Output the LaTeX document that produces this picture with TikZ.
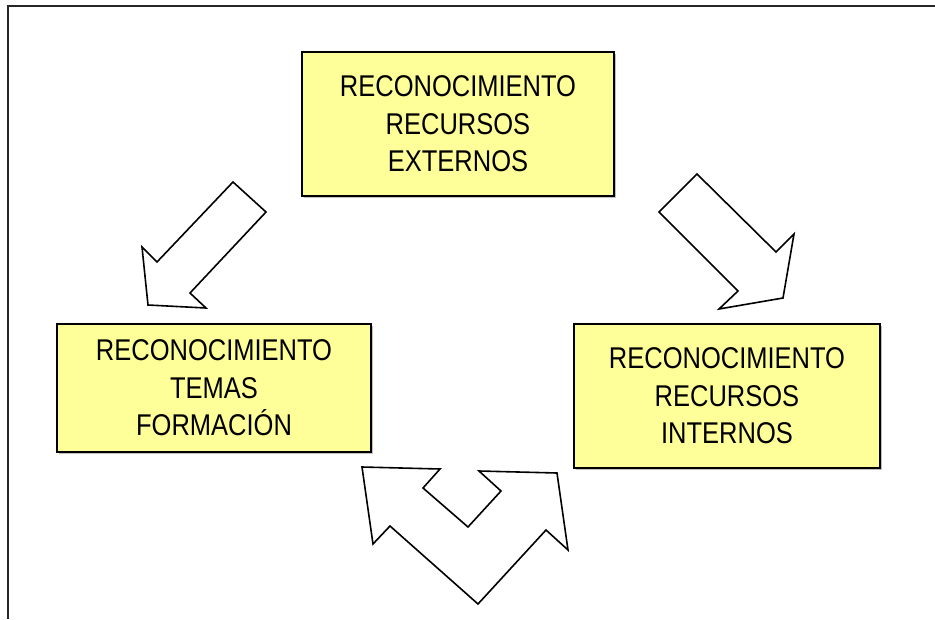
\documentclass[tikz,border=0pt]{standalone}
\usepackage{fontspec}
\setmainfont{Liberation Sans}[FakeStretch=0.85]
\usetikzlibrary{shadows}
\definecolor{amarillo}{RGB}{255,255,153}
\begin{document}
\begin{tikzpicture}[x=1pt,y=-1pt]
\tikzstyle{every node}+=[inner sep=0pt]
\tikzstyle{caja}=[draw=black, line width=1.6pt, fill=amarillo, align=center,
  drop shadow={shadow xshift=2pt, shadow yshift=-2pt, fill=gray, opacity=0.5},
  font=\fontsize{30}{37.5}\selectfont]
\tikzstyle{flecha}=[draw=black, line width=1.6pt, fill=white, line join=miter]
\useasboundingbox (0,0) rectangle (935,619);
% marco
\draw [line width=2pt, black!85] (8,619) -- (8,6) -- (935,6);
% cajas
\node [caja, minimum width=312pt, minimum height=144pt] (externos) at (458,124)
  {RECONOCIMIENTO\\RECURSOS\\EXTERNOS};
\node [caja, minimum width=314pt, minimum height=128pt] (temas) at (214,388)
  {RECONOCIMIENTO\\TEMAS\\FORMACIÓN};
\node [caja, minimum width=306pt, minimum height=144pt] (internos) at (727,396)
  {RECONOCIMIENTO\\RECURSOS\\INTERNOS};
% flechas de bloque
\draw [flecha] (233,182) -- (266,212) -- (190,293) -- (206,308) -- (148,305)
  -- (142,247) -- (157,262) -- cycle;
\draw [flecha] (697,174) -- (776,252) -- (794,234) -- (783,298) -- (719,309)
  -- (738,291) -- (659,212) -- cycle;
\draw [flecha] (362,467) -- (440,469) -- (423,488) -- (468,527) -- (501,491)
  -- (479,471) -- (557,473) -- (568,550) -- (546,530) -- (478,604)
  -- (390,526) -- (373,544) -- cycle;
\end{tikzpicture}
\end{document}
